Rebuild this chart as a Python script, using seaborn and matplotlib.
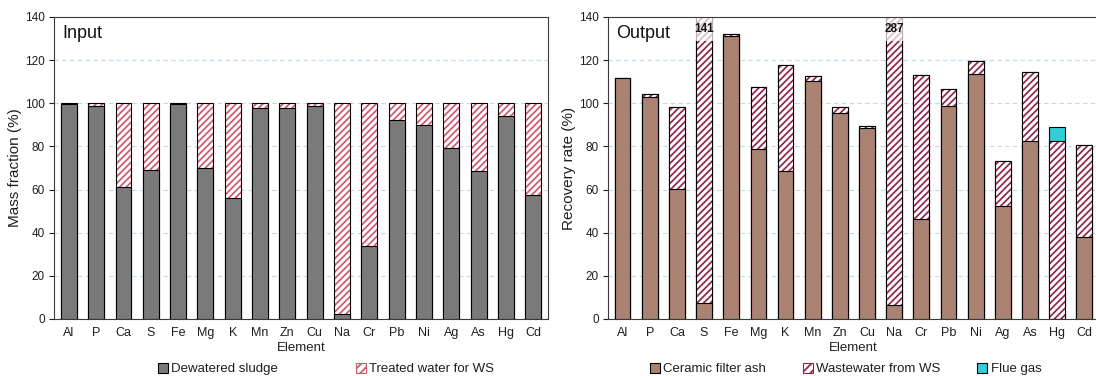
import matplotlib
matplotlib.use("Agg")
import matplotlib.pyplot as plt
from matplotlib.patches import Patch
import numpy as np
import pandas as pd
import seaborn as sns

# ---- data ----
elements = ["Al", "P", "Ca", "S", "Fe", "Mg", "K", "Mn", "Zn", "Cu",
            "Na", "Cr", "Pb", "Ni", "Ag", "As", "Hg", "Cd"]

# Input: mass fraction (%)
dewatered_sludge = [99.7, 98.9, 61.2, 69.0, 99.7, 70.0, 56.2, 97.8, 97.8, 98.9,
                    2.3, 34.0, 92.3, 90.0, 79.2, 68.4, 94.2, 57.6]
treated_water = [0.3, 1.1, 38.8, 31.0, 0.3, 30.0, 43.8, 2.2, 2.2, 1.1,
                 97.7, 66.0, 7.7, 10.0, 20.8, 31.6, 5.8, 42.4]

# Output: recovery rate (%)
ceramic_ash = [111.6, 103.0, 60.1, 7.6, 131.0, 78.6, 68.5, 110.2, 95.7, 88.5,
               6.5, 46.4, 98.7, 113.6, 52.3, 82.3, 0.0, 37.9]
wastewater = [0.2, 1.4, 38.0, 133.4, 1.0, 28.9, 49.4, 2.3, 2.7, 1.2,
              280.5, 66.6, 7.8, 5.9, 20.8, 32.3, 82.6, 42.9]
flue_gas = [0, 0, 0, 0, 0, 0, 0, 0, 0, 0,
            0, 0, 0, 0, 0, 0, 6.5, 0]

# ---- style ----
sns.set_style("ticks")
plt.rcParams["font.family"] = ["Liberation Sans", "DejaVu Sans"]
plt.rcParams["hatch.linewidth"] = 1.25

GRAY = "#7a7a7a"
BROWN = "#a98272"
CYAN = "#35cdd8"
HATCH_IN = "#d2566c"
HATCH_OUT = "#93234f"
HATCH = "/////"
BAR_W = 0.58
YMAX = 140
TXT = "#1e1e1e"

df_in = pd.DataFrame({"Element": elements,
                      "sludge": dewatered_sludge,
                      "water": treated_water})
df_in["total"] = df_in["sludge"] + df_in["water"]

df_out = pd.DataFrame({"Element": elements,
                       "ash": ceramic_ash,
                       "waste": wastewater,
                       "flue": flue_gas})
df_out["ash_waste"] = df_out["ash"] + df_out["waste"]
df_out["total"] = df_out["ash_waste"] + df_out["flue"]

fig = plt.figure(figsize=(10.96, 3.76), dpi=100)
ax_in = fig.add_axes([0.0493, 0.1516, 0.4507, 0.8032])
ax_out = fig.add_axes([0.5547, 0.1516, 0.4480, 0.8032])


def bar(ax, data, y, **kw):
    sns.barplot(data=data, x="Element", y=y, order=elements, ax=ax,
                width=BAR_W, saturation=1, errorbar=None, **kw)


def hatched_layer(ax, data, y, hatch_color):
    # hatch drawn with its own colour, then a black outline on top
    bar(ax, data, y, color="white", edgecolor=hatch_color,
        linewidth=0, hatch=HATCH)
    bar(ax, data, y, fill=False, edgecolor="black", linewidth=0.8)


# ---- Input panel ----
hatched_layer(ax_in, df_in, "total", HATCH_IN)
bar(ax_in, df_in, "sludge", color=GRAY, edgecolor="black", linewidth=0.8)

# ---- Output panel ----
bar(ax_out, df_out, "total", color=CYAN, edgecolor="black", linewidth=0.8)
hatched_layer(ax_out, df_out, "ash_waste", HATCH_OUT)
bar(ax_out, df_out, "ash", color=BROWN, edgecolor="black", linewidth=0.8)

# values of bars running past the top of the axis
for i, tot in enumerate(df_out["total"]):
    if tot > YMAX:
        ax_out.text(i, 134.6, f"{tot:.0f}", ha="center", va="center",
                    fontsize=8.5, fontweight="bold", color="#111111",
                    zorder=2.4, clip_on=True,
                    bbox=dict(boxstyle="square,pad=0.5", facecolor="white",
                              edgecolor="none", alpha=0.7))

for ax, ylabel, title in [(ax_in, "Mass fraction (%)", "Input"),
                          (ax_out, "Recovery rate (%)", "Output")]:
    ax.set_ylim(0, YMAX)
    ax.set_xlim(-0.54, len(elements) - 0.46)
    ax.set_yticks(np.arange(0, YMAX + 1, 20))
    ax.set_axisbelow(True)
    ax.yaxis.grid(True, linestyle=(0, (4, 3)), color="#c3d8ea", linewidth=0.8)
    ax.xaxis.grid(False)
    for s in ax.spines.values():
        s.set_visible(True)
        s.set_linewidth(0.8)
        s.set_color("#3a3a3a")
        s.set_zorder(3)
    ax.tick_params(axis="y", direction="out", length=3.5, width=0.8,
                   labelsize=8.5, pad=3, colors=TXT)
    ax.tick_params(axis="x", length=0, labelsize=9, pad=6, colors=TXT)
    ax.set_xlabel("Element", fontsize=9.5, labelpad=2, color=TXT)
    ax.set_ylabel(ylabel, fontsize=11, labelpad=2, color=TXT)
    ax.text(0.016, 0.975, title, transform=ax.transAxes, ha="left", va="top",
            fontsize=13, color="#111111")

leg_kw = dict(loc="center", frameon=False, fontsize=9.5, handlelength=0.75,
              handleheight=0.75, handletextpad=0.25, borderaxespad=0,
              labelcolor=TXT)

ax_in.legend(handles=[Patch(facecolor=GRAY, edgecolor="black", linewidth=0.8),
                      Patch(facecolor="white", edgecolor=HATCH_IN, hatch="////",
                            linewidth=0.8)],
             labels=["Dewatered sludge", "Treated water for WS"],
             ncol=2, columnspacing=5.9, bbox_to_anchor=(0.551, -0.166), **leg_kw)

ax_out.legend(handles=[Patch(facecolor=BROWN, edgecolor="black", linewidth=0.8),
                       Patch(facecolor="white", edgecolor=HATCH_OUT, hatch="////",
                             linewidth=0.8),
                       Patch(facecolor=CYAN, edgecolor="black", linewidth=0.8)],
              labels=["Ceramic filter ash", "Wastewater from WS", "Flue gas"],
              ncol=3, columnspacing=2.8, bbox_to_anchor=(0.484, -0.166), **leg_kw)

fig.savefig("out.png", dpi=100)
